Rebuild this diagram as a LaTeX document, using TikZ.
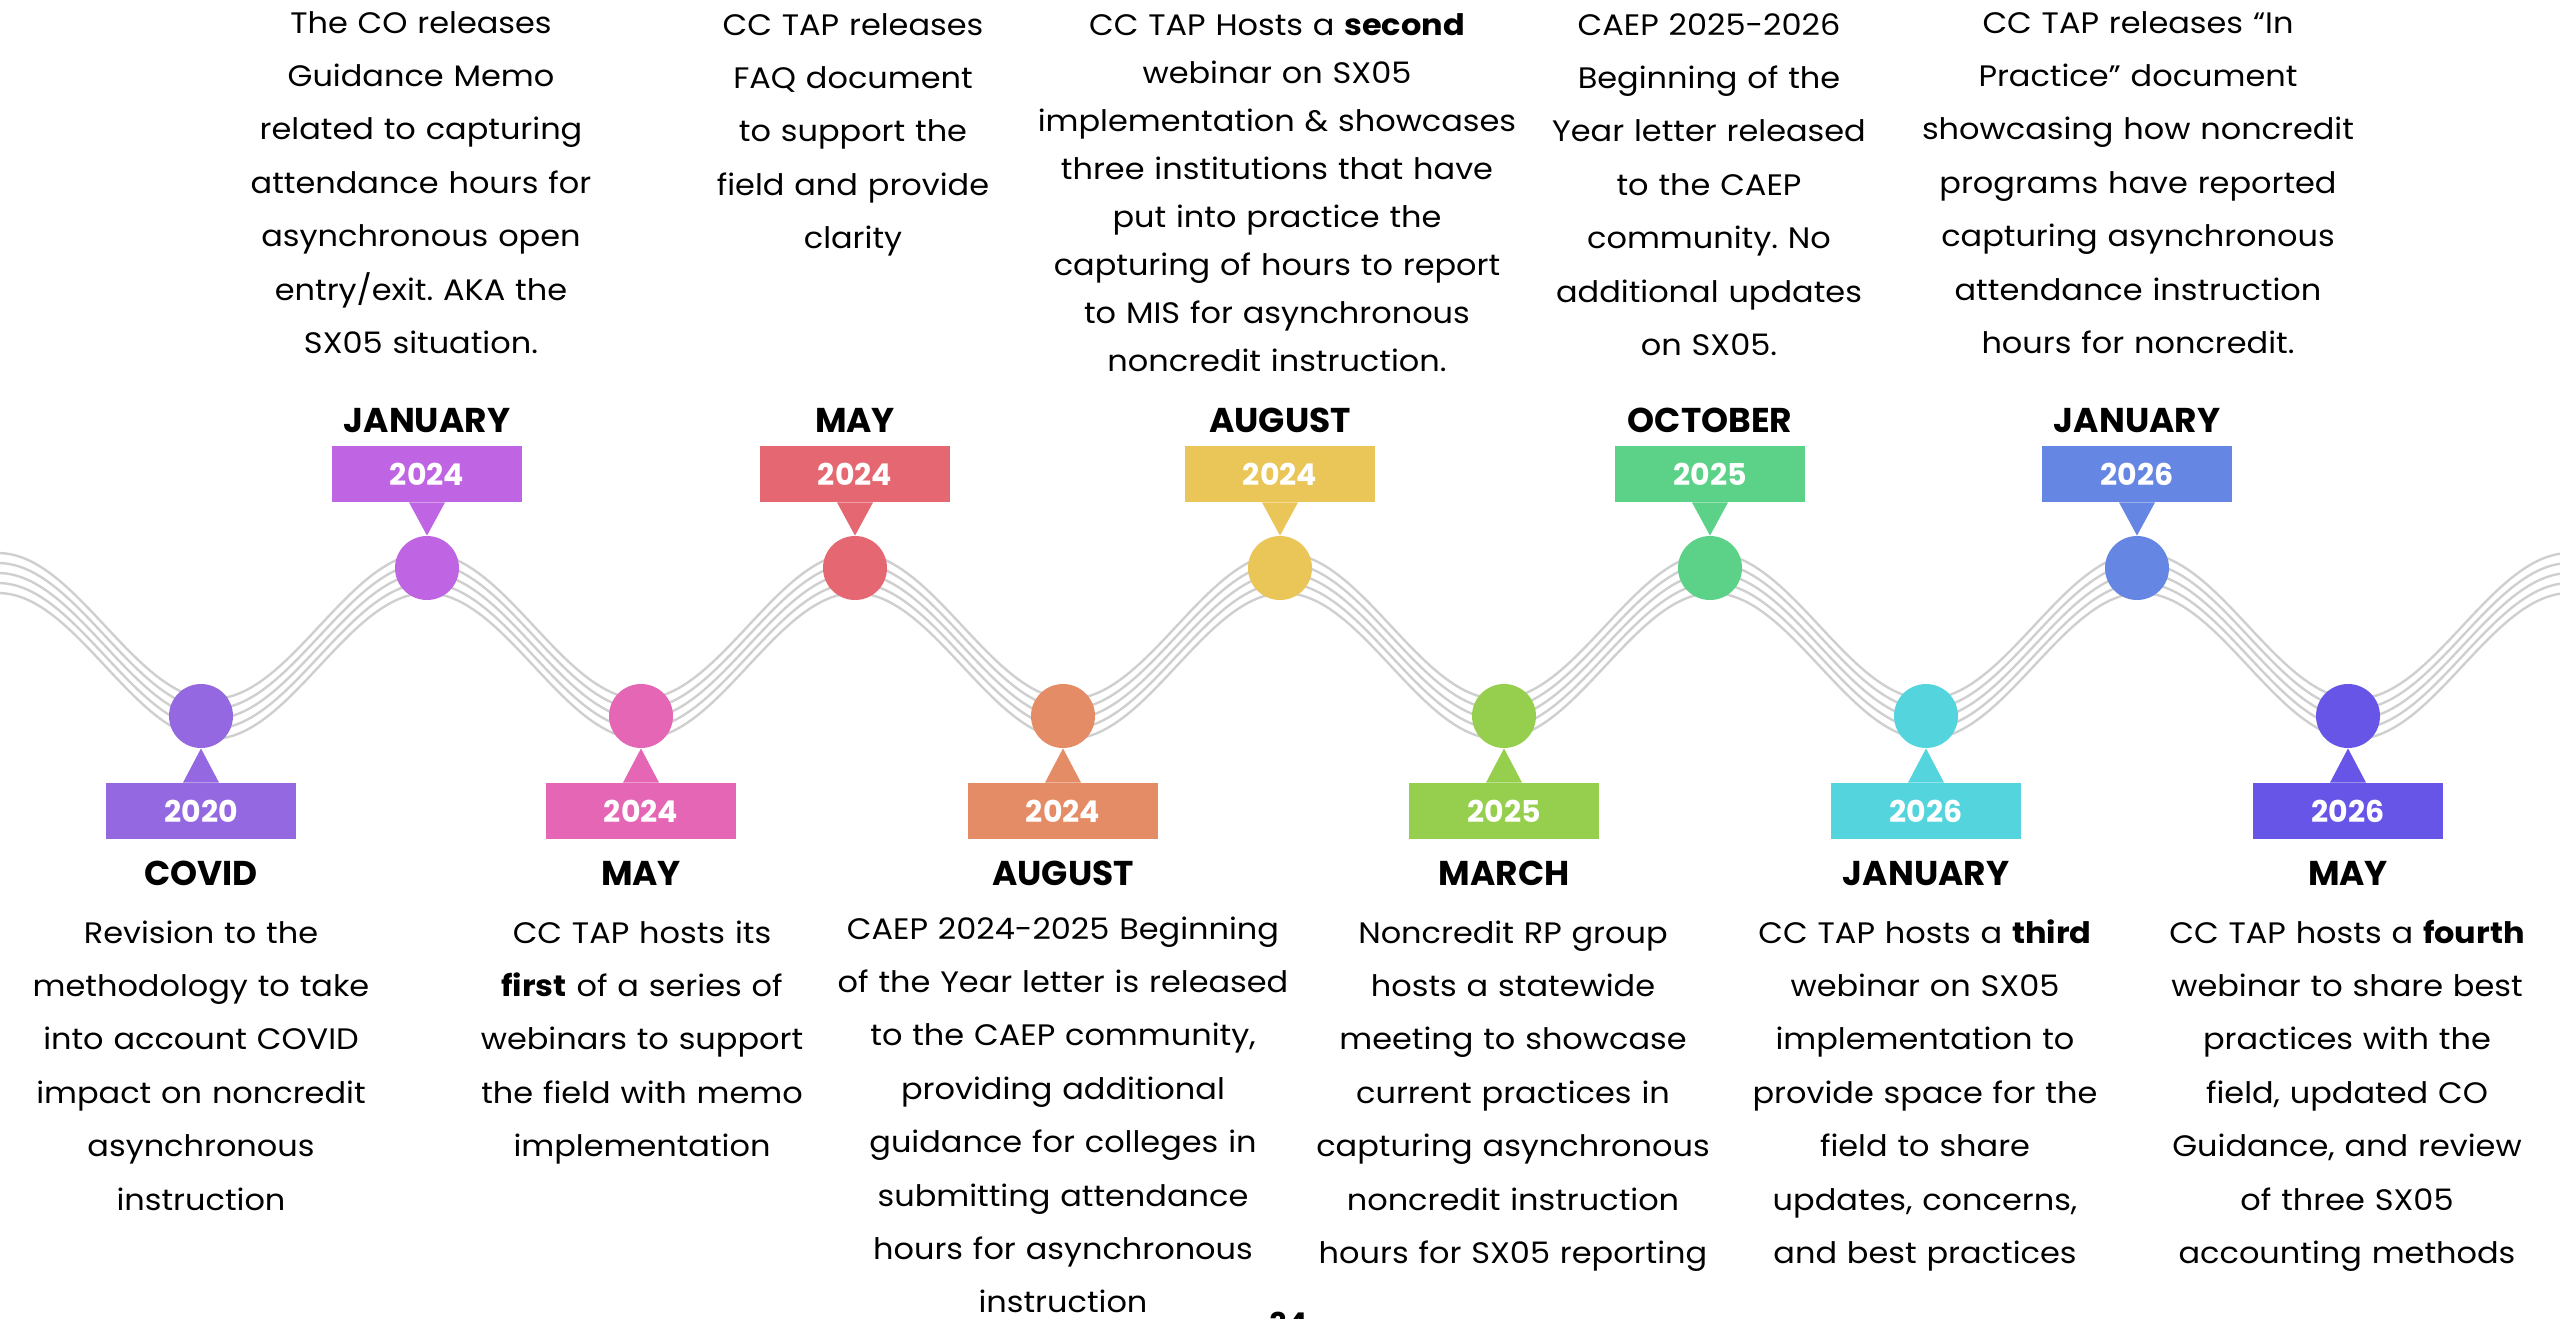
\documentclass[tikz,border=0pt]{standalone}
\usepackage{fontspec}
\setmainfont{Poppins}
\newfontfamily\notefont{Poppins}[FakeStretch=1.08]
\frenchspacing

\definecolor{wavegray}{HTML}{CFCFCF}
\definecolor{cCovid}{HTML}{9368E0}
\definecolor{cJanA}{HTML}{BF65E3}
\definecolor{cMayA}{HTML}{E466B4}
\definecolor{cMayB}{HTML}{E56771}
\definecolor{cAugA}{HTML}{E48C66}
\definecolor{cAugB}{HTML}{EAC557}
\definecolor{cMar}{HTML}{96CE4D}
\definecolor{cOct}{HTML}{5CD188}
\definecolor{cJanB}{HTML}{54D4DD}
\definecolor{cJanC}{HTML}{6686E3}
\definecolor{cMayC}{HTML}{6655E7}

\begin{document}
\begin{tikzpicture}[
x=0.5pt,y=-0.5pt,
font=\notefont\fontsize{14.8}{26.7}\selectfont,
wave/.style={draw=wavegray,line width=1.2pt},
stop/.style={circle,minimum size=32pt,inner sep=0pt},
yearbox/.style={rectangle,minimum width=95pt,minimum height=28pt,inner sep=0pt,text=white,font=\rmfamily\bfseries\fontsize{15}{18}\selectfont},
month/.style={anchor=base,inner sep=0pt,font=\rmfamily\bfseries\fontsize{17.2}{20}\selectfont},
note/.style={anchor=base,inner sep=0pt,text width=300pt,align=center}
]
\useasboundingbox (0,0) rectangle (2560,1318);

% Draw the wave
\foreach \k in {-2,...,2}{
  \draw[wave] plot[domain=-20:2580,samples=300,smooth] (\x,{646+10*\k-73*cos(((\x+2)/428.6)*360)});
}

% Stops above the wave
\foreach \n/\px/\c/\yr/\mo in {t1/427/cJanA/2024/JANUARY,t2/855/cMayB/2024/MAY,t3/1280/cAugB/2024/AUGUST,t4/1710/cOct/2025/OCTOBER,t5/2137/cJanC/2026/JANUARY}{
  \node [stop,fill=\c] (\n) at (\px,568) {};
  \node [yearbox,fill=\c] (\n yr) at (\px,474) {\yr};
  \fill [\c] ([xshift=-9pt]\n yr.south) -- ([xshift=9pt]\n yr.south) -- (\n.north) -- cycle;
  \node [month] (\n mo) at (\px,432) {\mo};
}

% Stops below the wave
\foreach \n/\px/\c/\yr/\mo in {b1/201/cCovid/2020/COVID,b2/641/cMayA/2024/MAY,b3/1063/cAugA/2024/AUGUST,b4/1504/cMar/2025/MARCH,b5/1926/cJanB/2026/JANUARY,b6/2348/cMayC/2026/MAY}{
  \node [stop,fill=\c] (\n) at (\px,716) {};
  \node [yearbox,fill=\c] (\n yr) at (\px,811) {\yr};
  \fill [\c] ([xshift=-9pt]\n yr.north) -- ([xshift=9pt]\n yr.north) -- (\n.south) -- cycle;
  \node [month] (\n mo) at (\px,885) {\mo};
}

% Notes above
\node [note] (t1txt) at (421,33) {The CO releases\\Guidance Memo\\related to capturing\\attendance hours for\\asynchronous open\\entry/exit. AKA the\\SX05 situation.};
\node [note] (t2txt) at (853,35) {CC TAP releases\\FAQ document\\to support the\\field and provide\\clarity};
\node [note,font=\notefont\fontsize{14.8}{24}\selectfont] (t3txt) at (1277,35) {CC TAP Hosts a \textbf{second}\\webinar on SX05\\implementation \& showcases\\three institutions that have\\put into practice the\\capturing of hours to report\\to MIS for asynchronous\\noncredit instruction.};
\node [note] (t4txt) at (1709,35) {CAEP 2025-2026\\Beginning of the\\Year letter released\\to the CAEP\\community. No\\additional updates\\on SX05.};
\node [note] (t5txt) at (2138,33) {CC TAP releases “In\\Practice” document\\showcasing how noncredit\\programs have reported\\capturing asynchronous\\attendance instruction\\hours for noncredit.};

% Notes below
\node [note] (b1txt) at (201,943) {Revision to the\\methodology to take\\into account COVID\\impact on noncredit\\asynchronous\\instruction};
\node [note] (b2txt) at (642,943) {CC TAP hosts its\\\textbf{first} of a series of\\webinars to support\\the field with memo\\implementation};
\node [note] (b3txt) at (1063,939) {CAEP 2024-2025 Beginning\\of the Year letter is released\\to the CAEP community,\\providing additional\\guidance for colleges in\\submitting attendance\\hours for asynchronous\\instruction};
\node [note] (b4txt) at (1513,943) {Noncredit RP group\\hosts a statewide\\meeting to showcase\\current practices in\\capturing asynchronous\\noncredit instruction\\hours for SX05 reporting};
\node [note] (b5txt) at (1925,943) {CC TAP hosts a \textbf{third}\\webinar on SX05\\implementation to\\provide space for the\\field to share\\updates, concerns,\\and best practices};
\node [note] (b6txt) at (2347,943) {CC TAP hosts a \textbf{fourth}\\webinar to share best\\practices with the\\field, updated CO\\Guidance, and review\\of three SX05\\accounting methods};

% Page number, cut off by the edge
\node [month,font=\rmfamily\bfseries\fontsize{15}{18}\selectfont] (pagenum) at (1289,1334) {34};
\end{tikzpicture}
\end{document}
